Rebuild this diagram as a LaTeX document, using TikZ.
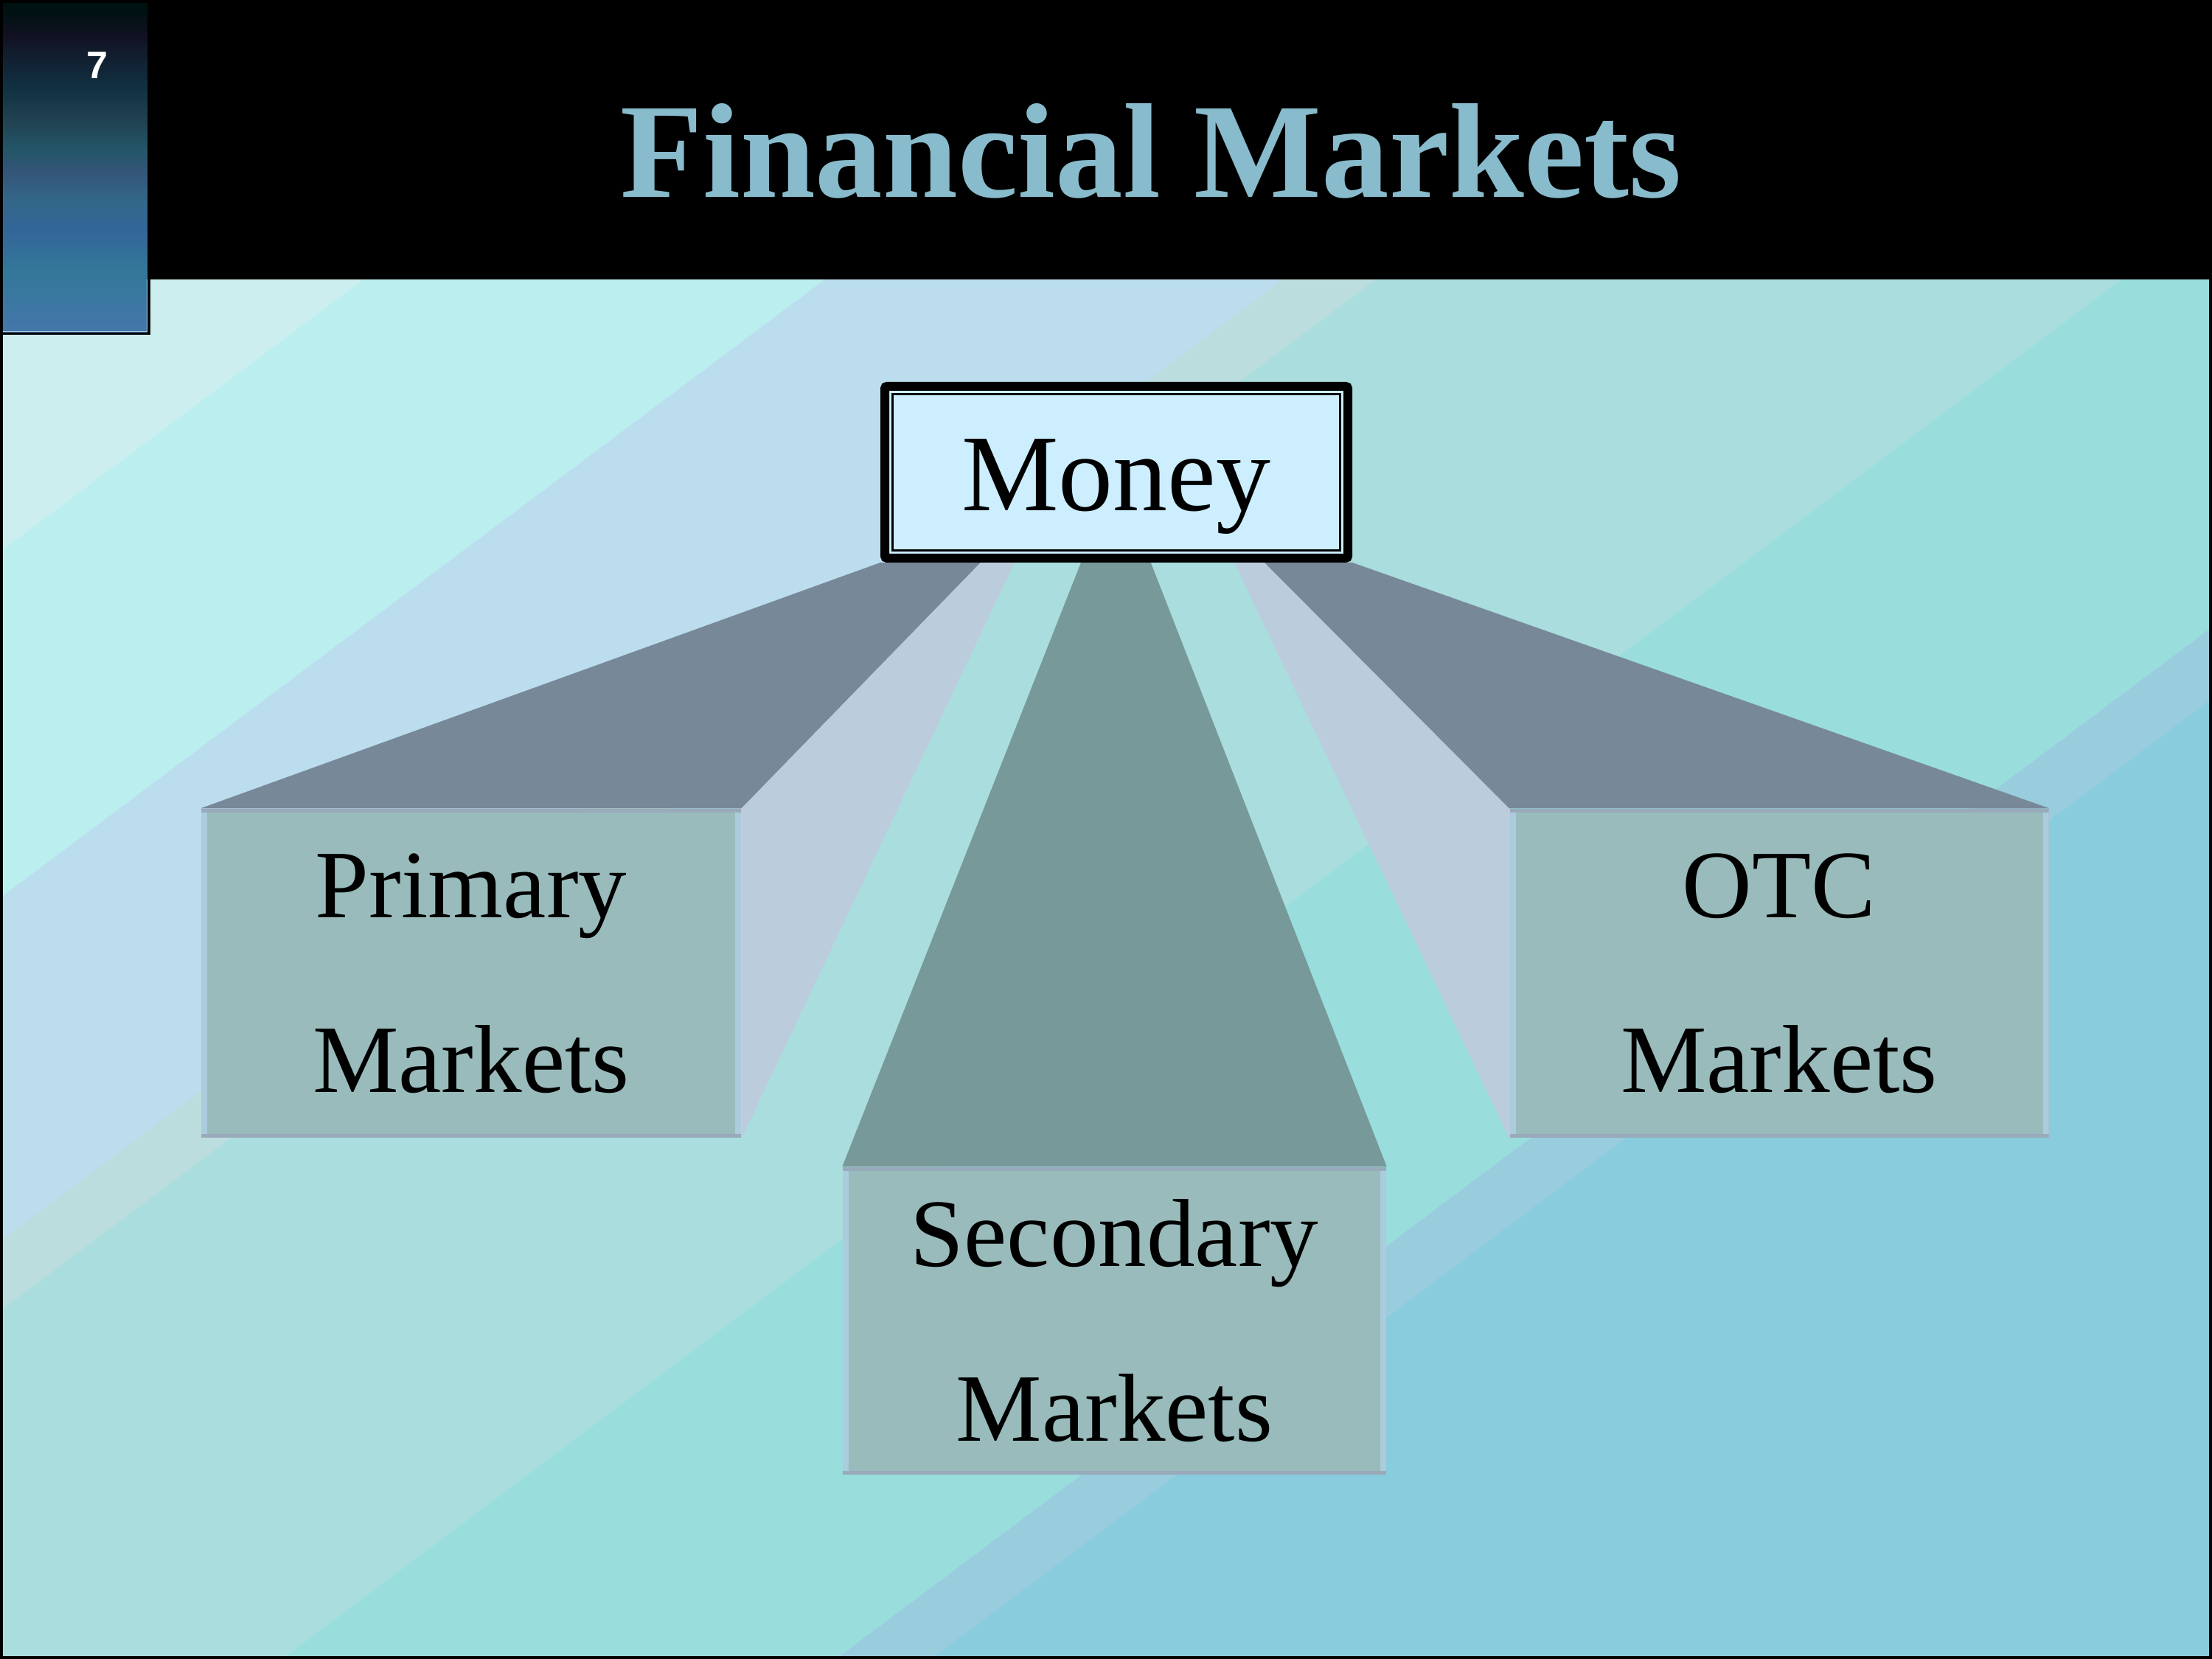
\documentclass[tikz,border=0pt]{standalone}
\usepackage{fontspec}
\setmainfont{Liberation Serif}
\newfontfamily\slidenum{Liberation Sans}
\usetikzlibrary{calc}

\definecolor{titleblue}{HTML}{88BBCC}
\definecolor{moneyfill}{HTML}{CCEEFF}
\definecolor{boxface}{HTML}{99BBBB}
\definecolor{boxline}{HTML}{99AABB}
\definecolor{boxedge}{HTML}{AACCDD}
\definecolor{topslate}{HTML}{778899}
\definecolor{topteal}{HTML}{779999}
\definecolor{sidegray}{HTML}{BBCCDD}
% background stripes, top left to bottom right
\definecolor{bgA}{HTML}{CCEEEE}
\definecolor{bgB}{HTML}{BBEEEE}
\definecolor{bgC}{HTML}{BBDDEE}
\definecolor{bgD}{HTML}{BBDDDD}
\definecolor{bgE}{HTML}{AADDDD}
\definecolor{bgF}{HTML}{99DDDD}
\definecolor{bgG}{HTML}{99CCDD}
\definecolor{bgH}{HTML}{88CCDD}
% corner bar
\definecolor{barA}{HTML}{4477AA}
\definecolor{barB}{HTML}{337799}
\definecolor{barC}{HTML}{336699}
\definecolor{barD}{HTML}{336688}
\definecolor{barE}{HTML}{335577}
\definecolor{barF}{HTML}{225566}
\definecolor{barG}{HTML}{224455}
\definecolor{barH}{HTML}{113344}
\definecolor{barI}{HTML}{112233}
\definecolor{barJ}{HTML}{111122}
\definecolor{barK}{HTML}{001111}
\pgfdeclareverticalshading{barshade}{100bp}{color(0bp)=(barA); color(25bp)=(barA);
  color(34.5bp)=(barB); color(40.5bp)=(barC); color(45bp)=(barD); color(49.5bp)=(barE);
  color(53bp)=(barF); color(56.5bp)=(barG); color(61.5bp)=(barH); color(66bp)=(barI);
  color(70bp)=(barJ); color(73.5bp)=(barK); color(100bp)=(barK)}

\pgfdeclarelayer{back}
\pgfdeclarelayer{faces}
\pgfsetlayers{back,faces,main}

\tikzset{
  moneybox/.style={draw=black, line width=0.12cm, fill=moneyfill, rounded corners=0.03cm,
    minimum width=6.28cm, minimum height=2.33cm, inner sep=0pt,
    font=\fontsize{42.1}{50}\selectfont, text height=1.2cm, text depth=0.15cm,
    path picture={\draw[line width=0.03cm, sharp corners]
      ([shift={(0.105,0.105)}]path picture bounding box.south west) rectangle
      ([shift={(-0.105,-0.105)}]path picture bounding box.north east);}},
  mktbox/.style={fill=boxface, inner sep=0pt, align=center,
    font=\fontsize{37.3}{67.4}\selectfont,
    path picture={
      \fill[boxedge] (path picture bounding box.south west) rectangle ([xshift=0.08cm]path picture bounding box.north west);
      \fill[boxedge] (path picture bounding box.south east) rectangle ([xshift=-0.08cm]path picture bounding box.north east);
      \fill[boxline] (path picture bounding box.north west) rectangle ([yshift=-0.05cm]path picture bounding box.north east);
      \fill[boxline] (path picture bounding box.south west) rectangle ([yshift=0.05cm]path picture bounding box.south east);}},
  topface/.style={fill=topslate},
  sideface/.style={fill=sidegray}
}

\begin{document}
\begin{tikzpicture}
\useasboundingbox (0,0) rectangle (30,22.5);

\begin{pgfonlayer}{back}
% striped slide background
\fill[bgA] (0,0) rectangle (30,18.71);
\begin{scope}
\clip (0,0) rectangle (30,18.71);
\foreach \c/\col in {4.93/bgB,11.19/bgC,17.40/bgD,18.66/bgE,28.78/bgF,36.29/bgG,37.58/bgH}
  \fill[\col] (\c,18.71) -- (\c-24.95,0) -- (45,0) -- (45,18.71) -- cycle;
\end{scope}
% title bar
\fill[black] (0,18.71) rectangle (30,22.5);
\fill[black] (0,17.96) rectangle (2.04,22.5);
\shade[shading=barshade] (0,17.99) rectangle (2.0,22.47);
\draw[boxedge, line width=0.01cm] (1.99,18.71) -- (1.99,18.0) -- (0,18.0);
\draw[black, line width=0.04cm] (0.02,0.02) rectangle (29.98,22.48);
\end{pgfonlayer}

\node[font=\slidenum\bfseries\fontsize{14.8}{16}\selectfont, text=white, anchor=base] (slideno) at (1.32,21.43) {7};
\node[font=\bfseries\fontsize{52.1}{60}\selectfont, text=titleblue, anchor=base] (title) at (15.61,19.82) {Financial Markets};

\node[moneybox] (money) at (15.14,16.095) {Money};
\node[mktbox, minimum width=7.32cm, minimum height=4.46cm] (prim) at (6.39,9.30) {Primary\\Markets};
\node[mktbox, minimum width=7.37cm, minimum height=4.17cm] (sec) at (15.115,4.585) {Secondary\\Markets};
\node[mktbox, minimum width=7.31cm, minimum height=4.46cm] (otc) at (24.13,9.30) {OTC\\Markets};

\begin{pgfonlayer}{faces}
\fill[topface] (prim.north west) -- (money.south west) -- ($(money.south west)!0.2125!(money.south east)$) -- (prim.north east) -- cycle;
\fill[sideface] (prim.north east) -- ($(money.south west)!0.2125!(money.south east)$) -- ($(money.south west)!0.284!(money.south east)$) -- (prim.south east) -- cycle;
\fill[topteal] (sec.north west) -- ($(money.south west)!0.425!(money.south east)$) -- ($(money.south west)!0.573!(money.south east)$) -- (sec.north east) -- cycle;
\fill[sideface] (otc.south west) -- ($(money.south west)!0.75!(money.south east)$) -- ($(money.south west)!0.814!(money.south east)$) -- (otc.north west) -- cycle;
\fill[topface] (otc.north west) -- ($(money.south west)!0.814!(money.south east)$) -- (money.south east) -- (otc.north east) -- cycle;
\end{pgfonlayer}
\end{tikzpicture}
\end{document}
